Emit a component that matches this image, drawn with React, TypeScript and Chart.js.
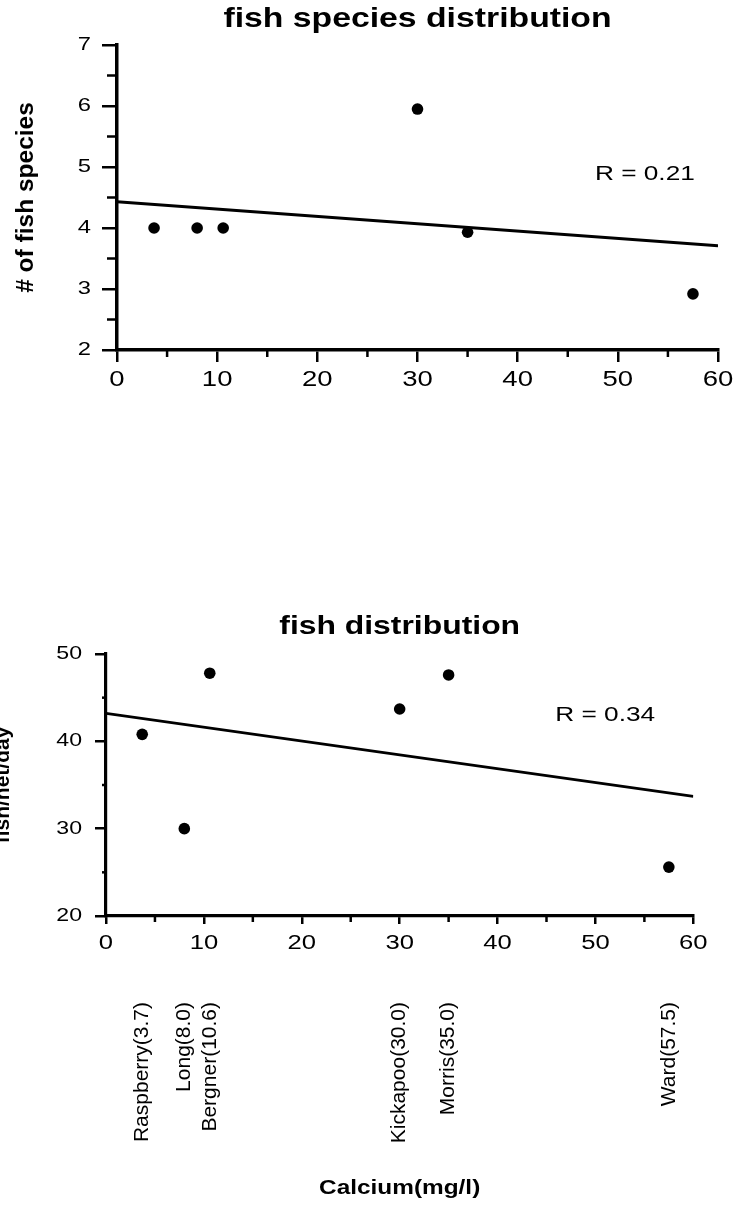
import React, { useEffect, useRef } from 'react';
import { Chart, registerables } from 'chart.js';

Chart.register(...registerables);

// ---------- data ----------
const lakeLabels = ['Raspberry(3.7)', 'Long(8.0)', 'Bergner(10.6)', 'Kickapoo(30.0)', 'Morris(35.0)', 'Ward(57.5)'];
const calcium = [3.7, 8.0, 10.6, 30.0, 35.0, 57.5];
const speciesCount = [4, 4, 4, 5.95, 3.93, 2.92];
const fishPerNetDay = [40.8, 30.0, 47.8, 43.7, 47.6, 25.6];

const trendX = [0, 60];
const speciesTrend = [4.43, 3.71];
const fishTrend = [43.2, 33.7];

const xTickValues = [0, 10, 20, 30, 40, 50, 60];
const xMinorTicks = [5, 15, 25, 35, 45, 55];
const speciesTicks = [2, 3, 4, 5, 6, 7];
const speciesMinorTicks = [2.5, 3.5, 4.5, 5.5, 6.5];
const fishTicks = [20, 30, 40, 50];
const fishMinorTicks = [25, 35, 45];

// ---------- styling ----------
const FONT = "'Liberation Sans', Arial, Helvetica, sans-serif";
const TEXT_STRETCH = 1.25;
const BLACK = '#000';

function stretchText(ctx: CanvasRenderingContext2D) {
  const anyCtx = ctx as any;
  if (anyCtx.__stretched) return;
  anyCtx.__stretched = true;
  const orig = ctx.fillText;
  anyCtx.fillText = function (text: string, x: number, y: number, maxWidth?: number) {
    const m = this.getTransform();
    if (Math.abs(m.b) > 1e-6 || Math.abs(m.c) > 1e-6) {
      return maxWidth === undefined ? orig.call(this, text, x, y) : orig.call(this, text, x, y, maxWidth);
    }
    this.save();
    this.translate(x, y);
    this.scale(TEXT_STRETCH, 1);
    if (maxWidth === undefined) orig.call(this, text, 0, 0);
    else orig.call(this, text, 0, 0, maxWidth / TEXT_STRETCH);
    this.restore();
  };
}

function makeRLabel(text: string, xv: number, yv: number, size: number) {
  return {
    id: 'rLabel',
    afterDatasetsDraw(chart: any) {
      const { ctx } = chart;
      const xs = chart.scales.x;
      const ys = chart.scales.y;
      ctx.save();
      ctx.font = `${size}px ${FONT}`;
      ctx.fillStyle = BLACK;
      ctx.textAlign = 'center';
      ctx.textBaseline = 'middle';
      ctx.fillText(text, xs.getPixelForValue(xv), ys.getPixelForValue(yv));
      ctx.restore();
    },
  };
}

function makeMinorTicks(xVals: number[], xLen: number, yVals: number[], yLen: number, width: number) {
  return {
    id: 'minorTicks',
    afterDraw(chart: any) {
      const { ctx, chartArea } = chart;
      const xs = chart.scales.x;
      const ys = chart.scales.y;
      ctx.save();
      ctx.strokeStyle = BLACK;
      ctx.lineWidth = width;
      for (const v of xVals) {
        const p = xs.getPixelForValue(v);
        ctx.beginPath();
        ctx.moveTo(p, chartArea.bottom);
        ctx.lineTo(p, chartArea.bottom + xLen);
        ctx.stroke();
      }
      for (const v of yVals) {
        const p = ys.getPixelForValue(v);
        ctx.beginPath();
        ctx.moveTo(chartArea.left, p);
        ctx.lineTo(chartArea.left - yLen, p);
        ctx.stroke();
      }
      ctx.restore();
    },
  };
}

function tickGrid(len: number) {
  return {
    display: true,
    drawOnChartArea: false,
    drawTicks: true,
    tickLength: len,
    tickWidth: 2.5,
    lineWidth: 2.5,
    tickColor: BLACK,
    color: BLACK,
  };
}

function pointsDataset(ys: number[], radius: number) {
  return {
    data: calcium.map((c, i) => ({ x: c, y: ys[i] })),
    backgroundColor: BLACK,
    borderColor: BLACK,
    borderWidth: 0,
    pointRadius: radius,
    pointHoverRadius: radius,
    showLine: false,
  };
}

function trendDataset(ys: number[], width: number) {
  return {
    data: trendX.map((x, i) => ({ x, y: ys[i] })),
    showLine: true,
    borderColor: BLACK,
    borderWidth: width,
    pointRadius: 0,
    pointHoverRadius: 0,
    fill: false,
  };
}

function config1(): any {
  return {
    type: 'scatter',
    data: {
      datasets: [pointsDataset(speciesCount, 5.8), trendDataset(speciesTrend, 3)],
    },
    options: {
      responsive: false,
      animation: false,
      events: [],
      layout: { padding: { left: 0, right: 22, top: 0, bottom: 0 } },
      plugins: {
        legend: { display: false },
        tooltip: { enabled: false },
        title: {
          display: true,
          fullSize: false,
          text: 'fish species distribution',
          color: BLACK,
          font: { family: FONT, size: 27, weight: 'bold', lineHeight: 1.2 },
          padding: { top: 3, bottom: 9.6 },
        },
      },
      scales: {
        x: {
          type: 'linear',
          min: 0,
          max: 60,
          afterFit: (s: any) => { s.height = 70; },
          afterBuildTicks: (s: any) => { s.ticks = xTickValues.map((v) => ({ value: v })); },
          ticks: {
            autoSkip: false,
            maxRotation: 0,
            color: BLACK,
            padding: 5,
            font: { family: FONT, size: 22 },
            callback: (v: any) => String(v),
          },
          grid: tickGrid(12),
          border: { display: true, color: BLACK, width: 3.5 },
        },
        y: {
          type: 'linear',
          min: 2,
          max: 7,
          afterFit: (s: any) => { s.width = 117; },
          afterBuildTicks: (s: any) => { s.ticks = speciesTicks.map((v) => ({ value: v })); },
          ticks: {
            autoSkip: false,
            color: BLACK,
            padding: 11,
            font: { family: FONT, size: 19 },
            callback: (v: any) => String(v),
          },
          grid: tickGrid(15),
          border: { display: true, color: BLACK, width: 3.5 },
          title: {
            display: true,
            text: '# of fish species',
            color: BLACK,
            font: { family: FONT, size: 24.5, weight: 'bold', lineHeight: 1.2 },
            padding: { top: 11.5, bottom: 0 },
          },
        },
      },
    },
    plugins: [
      makeRLabel('R = 0.21', 52.7, 4.88, 21),
      makeMinorTicks(xMinorTicks, 7, speciesMinorTicks, 10, 2.5),
    ],
  };
}

function config2(): any {
  return {
    type: 'scatter',
    data: {
      datasets: [pointsDataset(fishPerNetDay, 5.8), trendDataset(fishTrend, 2.8)],
    },
    options: {
      responsive: false,
      animation: false,
      events: [],
      layout: { padding: { left: 0, right: 43, top: 0, bottom: 0 } },
      plugins: {
        legend: { display: false },
        tooltip: { enabled: false },
        title: {
          display: true,
          fullSize: false,
          text: 'fish distribution',
          color: BLACK,
          font: { family: FONT, size: 25.5, weight: 'bold', lineHeight: 1.2 },
          padding: { top: 11.3, bottom: 12.1 },
        },
      },
      scales: {
        x: {
          type: 'linear',
          position: 'bottom',
          weight: 0,
          min: 0,
          max: 60,
          afterFit: (s: any) => { s.height = 42; },
          afterBuildTicks: (s: any) => { s.ticks = xTickValues.map((v) => ({ value: v })); },
          ticks: {
            autoSkip: false,
            maxRotation: 0,
            color: BLACK,
            padding: 7,
            font: { family: FONT, size: 20.5 },
            callback: (v: any) => String(v),
          },
          grid: tickGrid(8),
          border: { display: true, color: BLACK, width: 3.2 },
        },
        xl: {
          type: 'linear',
          axis: 'x',
          position: 'bottom',
          weight: 1,
          min: 0,
          max: 60,
          afterFit: (s: any) => { s.height = 247; },
          afterBuildTicks: (s: any) => { s.ticks = calcium.map((v) => ({ value: v })); },
          ticks: {
            autoSkip: false,
            minRotation: 90,
            maxRotation: 90,
            color: BLACK,
            padding: 44,
            font: { family: FONT, size: 21 },
            callback: (_v: any, i: number) => lakeLabels[i],
          },
          grid: { display: false, drawTicks: false, drawOnChartArea: false },
          border: { display: false },
          title: {
            display: true,
            text: 'Calcium(mg/l)',
            color: BLACK,
            font: { family: FONT, size: 19.5, weight: 'bold', lineHeight: 1.2 },
            padding: { top: 0, bottom: 5 },
          },
        },
        y: {
          type: 'linear',
          min: 20,
          max: 50,
          afterFit: (s: any) => { s.width = 106; },
          afterBuildTicks: (s: any) => { s.ticks = fishTicks.map((v) => ({ value: v })); },
          ticks: {
            autoSkip: false,
            color: BLACK,
            padding: 13,
            font: { family: FONT, size: 18.5 },
            callback: (v: any) => String(v),
          },
          grid: tickGrid(11),
          border: { display: true, color: BLACK, width: 3.2 },
          title: {
            display: true,
            text: 'fish/net/day',
            color: BLACK,
            font: { family: FONT, size: 21, weight: 'bold', lineHeight: 0.3 },
            padding: { top: 0.2, bottom: 0 },
          },
        },
      },
    },
    plugins: [
      makeRLabel('R = 0.34', 51.0, 43.0, 21),
      makeMinorTicks(xMinorTicks, 6, fishMinorTicks, 4, 2.5),
    ],
  };
}

export default function App() {
  const ref1 = useRef<HTMLCanvasElement>(null);
  const ref2 = useRef<HTMLCanvasElement>(null);

  useEffect(() => {
    const c1 = ref1.current;
    const c2 = ref2.current;
    if (!c1 || !c2) return;
    const ctx1 = c1.getContext('2d');
    const ctx2 = c2.getContext('2d');
    if (ctx1) stretchText(ctx1);
    if (ctx2) stretchText(ctx2);
    const ch1 = new Chart(c1, config1());
    const ch2 = new Chart(c2, config2());
    return () => {
      ch1.destroy();
      ch2.destroy();
    };
  }, []);

  return (
    <div style={{ position: 'absolute', left: 0, top: 0, width: 740, height: 1205, background: '#fff' }}>
      <canvas ref={ref1} width={740} height={420} style={{ position: 'absolute', left: 0, top: 0 }} />
      <canvas ref={ref2} width={740} height={605} style={{ position: 'absolute', left: 0, top: 600 }} />
    </div>
  );
}
